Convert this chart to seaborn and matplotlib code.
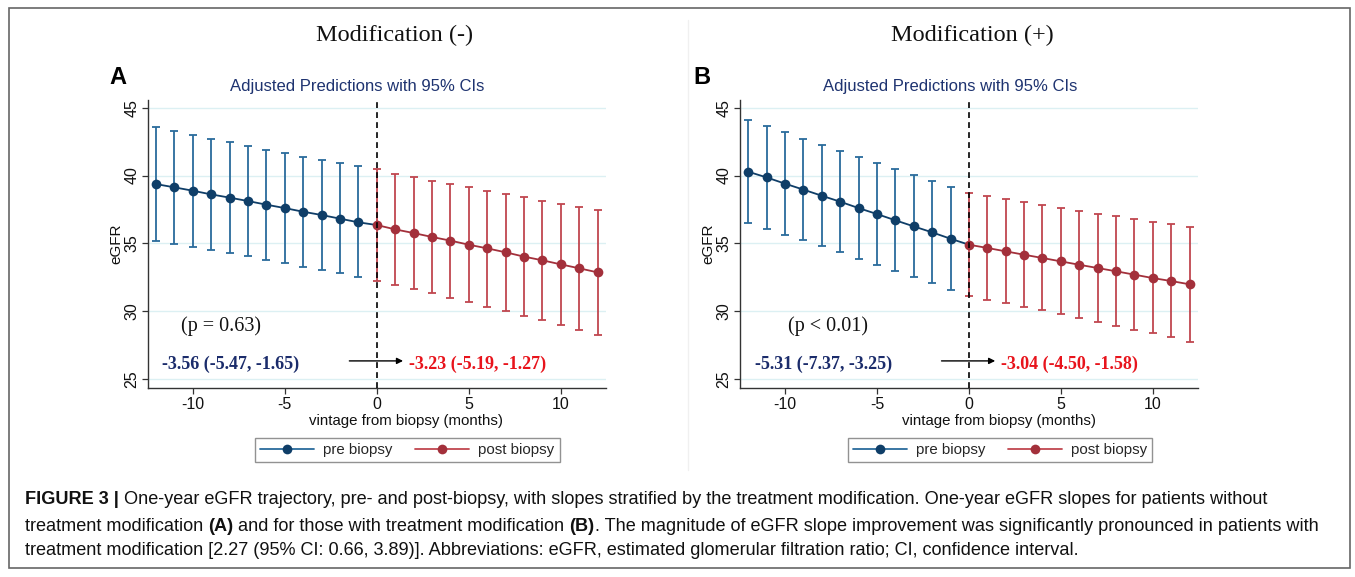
import numpy as np
import pandas as pd
import matplotlib
matplotlib.use("Agg")
import matplotlib.pyplot as plt
from matplotlib.lines import Line2D
from matplotlib.patches import Rectangle
import seaborn as sns

sns.set_theme(style="white")
plt.rcParams['font.family'] = ['Liberation Sans', 'DejaVu Sans']
plt.rcParams['axes.unicode_minus'] = False

# ---------------- data ----------------
pre_months = [-12, -11, -10, -9, -8, -7, -6, -5, -4, -3, -2, -1]
post_months = [0, 1, 2, 3, 4, 5, 6, 7, 8, 9, 10, 11, 12]

# Panel A: Modification (-)
a_pre_mean = [39.37, 39.13, 38.88, 38.61, 38.37, 38.12, 37.85, 37.60, 37.33, 37.09, 36.82, 36.55]
a_pre_low = [35.15, 34.98, 34.74, 34.50, 34.30, 34.04, 33.80, 33.55, 33.28, 33.03, 32.79, 32.52]
a_pre_high = [43.60, 43.28, 43.00, 42.71, 42.47, 42.17, 41.90, 41.66, 41.39, 41.17, 40.90, 40.68]
a_post_mean = [36.35, 36.03, 35.76, 35.47, 35.20, 34.90, 34.63, 34.34, 34.02, 33.75, 33.45, 33.16, 32.86]
a_post_low = [32.25, 31.90, 31.60, 31.31, 30.97, 30.68, 30.33, 30.01, 29.67, 29.32, 28.98, 28.64, 28.24]
a_post_high = [40.45, 40.14, 39.86, 39.62, 39.37, 39.13, 38.88, 38.64, 38.39, 38.15, 37.90, 37.70, 37.46]

# Panel B: Modification (+)
b_pre_mean = [40.28, 39.86, 39.40, 38.96, 38.51, 38.07, 37.60, 37.16, 36.70, 36.25, 35.81, 35.34]
b_pre_low = [36.52, 36.08, 35.65, 35.22, 34.77, 34.34, 33.86, 33.42, 32.96, 32.52, 32.05, 31.56]
b_pre_high = [44.09, 43.62, 43.18, 42.71, 42.25, 41.83, 41.36, 40.90, 40.45, 40.01, 39.56, 39.15]
b_post_mean = [34.90, 34.66, 34.41, 34.16, 33.92, 33.67, 33.42, 33.18, 32.94, 32.69, 32.44, 32.22, 31.98]
b_post_low = [31.09, 30.85, 30.58, 30.31, 30.06, 29.77, 29.50, 29.20, 28.93, 28.64, 28.37, 28.07, 27.75]
b_post_high = [38.71, 38.46, 38.27, 38.02, 37.83, 37.63, 37.41, 37.19, 37.00, 36.79, 36.60, 36.40, 36.23]

panel_titles = ["Modification (-)", "Modification (+)"]
panel_letters = ["A", "B"]
p_labels = ["(p = 0.63)", "(p < 0.01)"]
pre_slopes = ["-3.56 (-5.47, -1.65)", "-5.31 (-7.37, -3.25)"]
post_slopes = ["-3.23 (-5.19, -1.27)", "-3.04 (-4.50, -1.58)"]
legend_labels = ["pre biopsy", "post biopsy"]
yticks = [25, 30, 35, 40, 45]
xticks = [-10, -5, 0, 5, 10]

# ---------------- style ----------------
PRE_LINE = "#0f3e68"
PRE_CI = "#2a6b9c"
POST_LINE = "#a3303b"
POST_CI = "#c0464f"
NAVY = "#1b2c6b"
RED = "#e8141c"
GRID = "#dcf0f3"

W, H = 1355, 577
fig = plt.figure(figsize=(W / 100, H / 100), dpi=100)
fig.patch.set_facecolor("white")

def fx(px):
    return px / W

def fy(py):
    return 1 - py / H

panels = [
    dict(left=147.7, right=606.0, pre=(a_pre_mean, a_pre_low, a_pre_high),
         post=(a_post_mean, a_post_low, a_post_high), title_x=357, head_x=395,
         letter_x=117.5, xlabel_x=406, legend_x=407.5, p_x=-8.46),
    dict(left=740.0, right=1198.0, pre=(b_pre_mean, b_pre_low, b_pre_high),
         post=(b_post_mean, b_post_low, b_post_high), title_x=950, head_x=972,
         letter_x=702, xlabel_x=999, legend_x=1000, p_x=-7.65),
]

top_px, bottom_px = 100.0, 388.3

for i, P in enumerate(panels):
    ax = fig.add_axes([fx(P["left"]), fy(bottom_px), fx(P["right"] - P["left"]),
                       (bottom_px - top_px) / H])
    ax.set_facecolor("white")
    ax.set_xlim(-12.45, 12.46)
    ax.set_ylim(24.31, 45.57)

    for yv in yticks:
        ax.axhline(yv, color=GRID, lw=1.0, zorder=0)

    pre_mean, pre_low, pre_high = P["pre"]
    post_mean, post_low, post_high = P["post"]

    # CI bars
    pm = np.array(pre_mean); pl = np.array(pre_low); ph = np.array(pre_high)
    ax.errorbar(pre_months, pm, yerr=[pm - pl, ph - pm], fmt="none",
                ecolor=PRE_CI, elinewidth=1.3, capsize=2.6, capthick=1.3, zorder=2)
    qm = np.array(post_mean); ql = np.array(post_low); qh = np.array(post_high)
    ax.errorbar(post_months, qm, yerr=[qm - ql, qh - qm], fmt="none",
                ecolor=POST_CI, elinewidth=1.3, capsize=2.6, capthick=1.3, zorder=2)

    # connecting lines + markers
    pre_df = pd.DataFrame({"x": pre_months + [post_months[0]],
                           "y": list(pre_mean) + [post_mean[0]]})
    sns.lineplot(data=pre_df, x="x", y="y", ax=ax, color=PRE_LINE, lw=1.3,
                 marker="o", markersize=7, markeredgewidth=0,
                 markevery=list(range(len(pre_months))), zorder=3)
    post_df = pd.DataFrame({"x": post_months, "y": post_mean})
    sns.lineplot(data=post_df, x="x", y="y", ax=ax, color=POST_LINE, lw=1.3,
                 marker="o", markersize=7, markeredgewidth=0, zorder=3)

    ax.axvline(0, color="black", lw=1.2, ls=(0, (3.5, 2.5)), zorder=4)

    # annotations
    ax.text(P["p_x"], 28.86, p_labels[i], family="Liberation Serif", fontsize=14.5,
            color="#111111", ha="center", va="center")
    ax.text(-7.92, 26.11, pre_slopes[i], family="Liberation Serif", fontsize=13,
            fontweight="bold", color=NAVY, ha="center", va="center")
    ax.text(5.49, 26.11, post_slopes[i], family="Liberation Serif", fontsize=13,
            fontweight="bold", color=RED, ha="center", va="center")
    ax.annotate("", xy=(1.43, 26.33), xytext=(-1.49, 26.33),
                arrowprops=dict(arrowstyle="-|>", color="black", lw=1.0,
                                mutation_scale=9, shrinkA=0, shrinkB=0))

    # axes styling
    sns.despine(ax=ax, top=True, right=True)
    for s in ["left", "bottom"]:
        ax.spines[s].set_color("#333333")
        ax.spines[s].set_linewidth(1.0)
    ax.set_xticks(xticks)
    ax.set_yticks(yticks)
    ax.tick_params(axis="both", which="both", direction="out", length=4.5, width=0.9,
                   color="#333333", labelsize=11.5, labelcolor="#111111",
                   bottom=True, left=True, pad=1.5)
    for lab in ax.get_yticklabels():
        lab.set_rotation(90)
        lab.set_va("center")
    ax.set_xlabel("")
    ax.set_ylabel("eGFR", fontsize=11, color="#111111", labelpad=1)

    # figure-level texts for this panel
    fig.text(fx(P["title_x"]), fy(86), "Adjusted Predictions with 95% CIs",
             color="#1e3370", fontsize=12, ha="center", va="center")
    fig.text(fx(P["head_x"]), fy(35), panel_titles[i], family="Liberation Serif",
             fontsize=17.5, color="#111111", ha="center", va="center")
    fig.text(fx(P["letter_x"]), fy(78), panel_letters[i], fontsize=17,
             fontweight="bold", color="black", ha="center", va="center")
    fig.text(fx(P["xlabel_x"]), fy(421), "vintage from biopsy (months)",
             fontsize=10.8, color="#111111", ha="center", va="center")

    handles = [
        Line2D([0], [0], color=PRE_CI, lw=1.3, marker="o", markersize=7,
               markerfacecolor=PRE_LINE, markeredgewidth=0),
        Line2D([0], [0], color=POST_CI, lw=1.3, marker="o", markersize=7,
               markerfacecolor=POST_LINE, markeredgewidth=0),
    ]
    leg = fig.legend(handles, legend_labels, loc="center",
                     bbox_to_anchor=(fx(P["legend_x"]), fy(450)), ncol=2,
                     fontsize=10.8, frameon=True, fancybox=False, handlelength=3.6,
                     handletextpad=0.6, columnspacing=1.5, borderpad=0.35)
    leg.get_frame().set_edgecolor("#777777")
    leg.get_frame().set_linewidth(1.0)

# faint divider between panels
fig.add_artist(Line2D([fx(688), fx(688)], [fy(20), fy(470)], color="#f0f0f0", lw=1))

# outer border
fig.add_artist(Rectangle((fx(9), fy(568)), fx(1350 - 9), (568 - 8) / H, fill=False,
                         edgecolor="#666666", lw=1.2))

# caption with mixed weights
renderer = fig.canvas.get_renderer()
CAP = 13.1
cap_lines = [
    [("FIGURE 3 | ", True), ("One-year eGFR trajectory, pre- and post-biopsy, with slopes stratified by the treatment modification. One-year eGFR slopes for patients without", False)],
    [("treatment modification ", False), ("(A)", True), (" and for those with treatment modification ", False), ("(B)", True), (". The magnitude of eGFR slope improvement was significantly pronounced in patients with", False)],
    [("treatment modification [2.27 (95% CI: 0.66, 3.89)]. Abbreviations: eGFR, estimated glomerular filtration ratio; CI, confidence interval.", False)],
]
cap_base = [504, 531, 555]
for parts, yy in zip(cap_lines, cap_base):
    x = fx(25)
    for txt, bold in parts:
        t = fig.text(x, fy(yy), txt, fontsize=CAP, color="#111111",
                     fontweight="bold" if bold else "normal", ha="left", va="baseline")
        bb = t.get_window_extent(renderer)
        x += bb.width / W

fig.savefig("out.png", dpi=100)
